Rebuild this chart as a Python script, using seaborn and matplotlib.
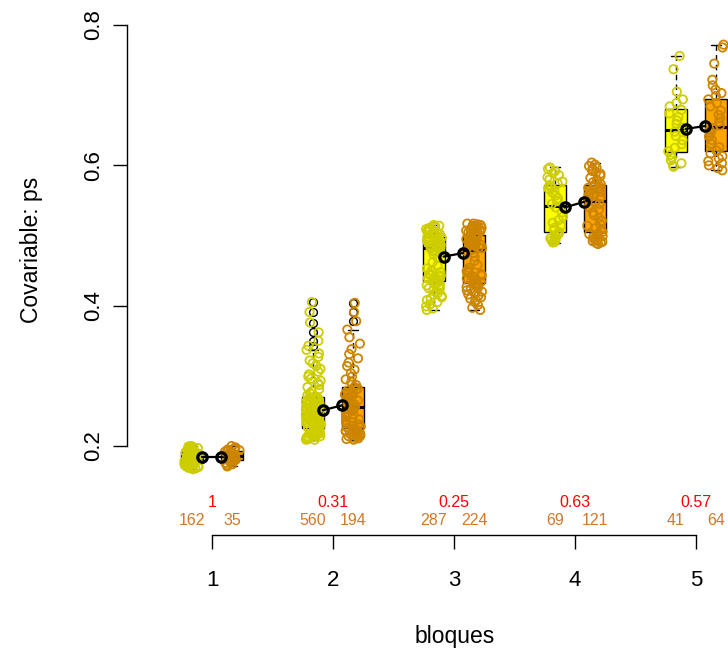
import numpy as np
import pandas as pd
import matplotlib
matplotlib.use("Agg")
import matplotlib.pyplot as plt
import seaborn as sns

sns.set_style("ticks")
plt.rcParams["font.family"] = ["Liberation Sans", "DejaVu Sans"]
plt.rcParams["text.color"] = "black"
plt.rcParams["xtick.color"] = "black"
plt.rcParams["ytick.color"] = "black"

bloques = [1, 2, 3, 4, 5]
grupos = ["control", "tratado"]

# valores de ps leidos por bloque (amarillo = control, naranja = tratado)
ps_b1_control = [0.167, 0.168, 0.169, 0.169, 0.170, 0.171, 0.171, 0.172, 0.173, 0.173,
                 0.174, 0.175, 0.175, 0.176, 0.177, 0.177, 0.178, 0.179, 0.179, 0.180,
                 0.181, 0.181, 0.182, 0.183, 0.183, 0.184, 0.185, 0.185, 0.186, 0.187,
                 0.187, 0.188, 0.189, 0.189, 0.190, 0.191, 0.191, 0.192, 0.193, 0.193,
                 0.194, 0.195, 0.195, 0.196, 0.197, 0.197, 0.198, 0.199, 0.199, 0.200]
ps_b1_tratado = [0.171, 0.173, 0.174, 0.176, 0.177, 0.178, 0.180, 0.181, 0.182, 0.184,
                 0.185, 0.186, 0.187, 0.188, 0.190, 0.191, 0.192, 0.193, 0.194, 0.195,
                 0.196, 0.197, 0.198, 0.200]

ps_b2_control = [0.209, 0.209, 0.210, 0.210, 0.211, 0.212, 0.212, 0.213, 0.214, 0.214,
                 0.215, 0.216, 0.216, 0.217, 0.218, 0.218, 0.219, 0.220, 0.220, 0.221,
                 0.222, 0.222, 0.223, 0.224, 0.225,
                 0.226, 0.227, 0.228, 0.229, 0.230, 0.231, 0.232, 0.233, 0.233, 0.234,
                 0.235, 0.236, 0.237, 0.238, 0.239, 0.240, 0.241, 0.242, 0.243, 0.243,
                 0.244, 0.245, 0.246, 0.247, 0.248, 0.249, 0.250, 0.251, 0.252, 0.253,
                 0.253, 0.254, 0.255, 0.256, 0.257, 0.258, 0.259, 0.260, 0.261, 0.262,
                 0.263, 0.263, 0.264, 0.265, 0.266, 0.266, 0.267, 0.268, 0.269, 0.270,
                 0.272, 0.275, 0.278, 0.281, 0.284, 0.287, 0.290, 0.293, 0.296, 0.299,
                 0.302, 0.306, 0.310, 0.314, 0.318, 0.322, 0.327, 0.332, 0.337, 0.343,
                 0.350, 0.362, 0.376, 0.391, 0.405]
ps_b2_tratado = [0.209, 0.210, 0.211, 0.212, 0.213, 0.214, 0.215, 0.216, 0.217, 0.218,
                 0.219, 0.220, 0.221, 0.222, 0.223, 0.224, 0.225,
                 0.226, 0.228, 0.229, 0.231, 0.233, 0.234, 0.236, 0.238, 0.240, 0.241,
                 0.243, 0.245, 0.247, 0.248, 0.250, 0.252, 0.254, 0.256, 0.257, 0.259,
                 0.261, 0.263, 0.265, 0.266, 0.268, 0.270, 0.272, 0.273, 0.275, 0.277,
                 0.279, 0.280, 0.282, 0.284,
                 0.287, 0.291, 0.295, 0.299, 0.304, 0.309, 0.314, 0.319, 0.325, 0.331,
                 0.338, 0.346, 0.355, 0.366, 0.378, 0.391, 0.404]

ps_b3_control = [0.394, 0.396, 0.399, 0.402, 0.405, 0.408, 0.410, 0.412, 0.414, 0.416,
                 0.418, 0.420, 0.422, 0.424, 0.425, 0.427, 0.429, 0.430, 0.432, 0.433,
                 0.435, 0.436, 0.437, 0.439, 0.440, 0.441, 0.443, 0.444, 0.446, 0.448,
                 0.450, 0.453, 0.457, 0.462, 0.468, 0.473, 0.477, 0.479, 0.481, 0.482,
                 0.483, 0.484, 0.485, 0.486, 0.487, 0.488, 0.489, 0.490, 0.490, 0.491,
                 0.492, 0.493, 0.493, 0.494, 0.495, 0.495, 0.496, 0.497, 0.497, 0.498,
                 0.499, 0.499, 0.500, 0.501, 0.501, 0.502, 0.503, 0.503, 0.504, 0.505,
                 0.506, 0.507, 0.508, 0.509, 0.510, 0.511, 0.512, 0.513, 0.514, 0.515]
ps_b3_tratado = [0.394, 0.397, 0.401, 0.405, 0.408, 0.410, 0.412, 0.414, 0.416, 0.418,
                 0.420, 0.422, 0.424, 0.425, 0.427, 0.428, 0.430, 0.431,
                 0.433, 0.434, 0.436, 0.437, 0.439, 0.440, 0.442, 0.443, 0.445, 0.447,
                 0.449, 0.451, 0.454, 0.458, 0.464, 0.470, 0.475, 0.478, 0.480, 0.482,
                 0.483, 0.485, 0.486, 0.487, 0.488, 0.490, 0.491, 0.492, 0.493, 0.494,
                 0.495, 0.496, 0.497, 0.498, 0.499, 0.500,
                 0.501, 0.502, 0.503, 0.504, 0.505, 0.506, 0.507, 0.508, 0.509, 0.510,
                 0.511, 0.512, 0.513, 0.514, 0.515, 0.516, 0.517, 0.517]

ps_b4_control = [0.490, 0.491, 0.493, 0.494, 0.496, 0.498, 0.500, 0.501, 0.503,
                 0.505, 0.508, 0.511, 0.514, 0.518, 0.522, 0.527, 0.533, 0.540, 0.545,
                 0.549, 0.553, 0.557, 0.561, 0.564, 0.567, 0.569, 0.571,
                 0.574, 0.577, 0.580, 0.583, 0.586, 0.589, 0.592, 0.595, 0.597]
ps_b4_tratado = [0.488, 0.489, 0.490, 0.491, 0.492, 0.494, 0.495, 0.496, 0.498, 0.499,
                 0.500, 0.502, 0.503,
                 0.505, 0.508, 0.511, 0.514, 0.517, 0.521, 0.525, 0.529, 0.533, 0.537,
                 0.541, 0.545, 0.548, 0.551, 0.554, 0.556, 0.558, 0.560, 0.562, 0.564,
                 0.566, 0.567, 0.568, 0.569, 0.570, 0.571,
                 0.573, 0.576, 0.579, 0.582, 0.585, 0.588, 0.590, 0.592, 0.595, 0.597,
                 0.599, 0.601, 0.604]

ps_b5_control = [0.598, 0.600, 0.603, 0.607, 0.611, 0.615,
                 0.620, 0.625, 0.630, 0.636, 0.642, 0.648, 0.654, 0.659, 0.664, 0.669,
                 0.674, 0.679,
                 0.684, 0.689, 0.694, 0.705, 0.737, 0.756]
ps_b5_tratado = [0.593, 0.596, 0.600, 0.603, 0.606, 0.610, 0.613, 0.617,
                 0.621, 0.626, 0.631, 0.636, 0.641, 0.646, 0.650, 0.653, 0.657, 0.662,
                 0.667, 0.672, 0.678, 0.684, 0.689, 0.694,
                 0.699, 0.703, 0.708, 0.714, 0.722, 0.745, 0.768, 0.772]

media_control = [0.185, 0.251, 0.470, 0.540, 0.652]
media_tratado = [0.185, 0.258, 0.475, 0.548, 0.656]
n_control = [162, 560, 287, 69, 41]
n_tratado = [35, 194, 224, 121, 64]
p_valores = ["1", "0.31", "0.25", "0.63", "0.57"]

col_caja = {"control": "yellow", "tratado": "orange"}
col_punto = {"control": "#CDCD00", "tratado": "#CD8500"}
col_n = "#D2782A"

lista_c = [ps_b1_control, ps_b2_control, ps_b3_control, ps_b4_control, ps_b5_control]
lista_t = [ps_b1_tratado, ps_b2_tratado, ps_b3_tratado, ps_b4_tratado, ps_b5_tratado]
filas = []
for b, vc, vt in zip(bloques, lista_c, lista_t):
    filas += [(b, "control", v) for v in vc]
    filas += [(b, "tratado", v) for v in vt]
df = pd.DataFrame(filas, columns=["bloque", "grupo", "ps"])
desplaz = {"control": -0.165, "tratado": 0.165}
df["pos"] = df["bloque"] + df["grupo"].map(desplaz)

medias = pd.DataFrame({
    "bloque": bloques * 2,
    "grupo": ["control"] * 5 + ["tratado"] * 5,
    "media": media_control + media_tratado,
})
medias["mpos"] = medias["bloque"] + medias["grupo"].map({"control": -0.085, "tratado": 0.075})

fig = plt.figure(figsize=(7.28, 6.52), dpi=100)
ax = fig.add_axes([127 / 728, 92 / 652, 601 / 728, 550 / 652])

sns.boxplot(data=df, x="pos", y="ps", hue="grupo", palette=col_caja, native_scale=True,
            dodge=False, width=0.53, saturation=1, linecolor="black", linewidth=1,
            fliersize=5.6, whiskerprops=dict(linestyle=(0, (4, 3))),
            medianprops=dict(linewidth=2.2),
            flierprops=dict(marker="o", markerfacecolor="none", markeredgewidth=1),
            legend=False, ax=ax)

np.random.seed(3)
n_antes = len(ax.collections)
sns.stripplot(data=df, x="pos", y="ps", hue="grupo", palette=col_punto, native_scale=True,
              dodge=False, jitter=0.2, size=6.0, linewidth=1.3, zorder=3,
              legend=False, ax=ax)
for coll in ax.collections[n_antes:]:
    coll.set_edgecolors(coll.get_facecolors())
    coll.set_facecolors("none")

sns.lineplot(data=medias, x="mpos", y="media", units="bloque", estimator=None,
             color="black", linewidth=1.6, marker="o", markersize=6.8,
             markerfacecolor="none", markeredgecolor="black", markeredgewidth=2.3,
             zorder=5, ax=ax)

for b, p, nc, nt in zip(bloques, p_valores, n_control, n_tratado):
    ax.text(b, 0.120, p, color="red", ha="center", va="center", fontsize=11.5)
    ax.text(b - 0.168, 0.0946, str(nc), color=col_n, ha="center", va="center", fontsize=11.5)
    ax.text(b + 0.168, 0.0946, str(nt), color=col_n, ha="center", va="center", fontsize=11.5)

ax.set_xlim(0.2975, 5.2645)
ax.set_ylim(0.0376, 0.8214)
ax.set_xticks(bloques)
ax.set_xticklabels([str(b) for b in bloques])
ax.set_yticks([0.2, 0.4, 0.6, 0.8])
ax.set_yticklabels(["0.2", "0.4", "0.6", "0.8"])
ax.set(xlabel="", ylabel="")

for s in ["top", "right"]:
    ax.spines[s].set_visible(False)
ax.spines["left"].set_bounds(0.2, 0.8)
ax.spines["bottom"].set_position(("data", 0.073))
ax.spines["bottom"].set_bounds(1, 5)
for s in ["left", "bottom"]:
    ax.spines[s].set_linewidth(1.0)
    ax.spines[s].set_color("black")

ax.tick_params(axis="both", length=10, width=1.0, color="black", labelcolor="black", labelsize=16)
ax.tick_params(axis="x", pad=15)
ax.tick_params(axis="y", pad=6.7, labelrotation=90)
for lab in ax.get_yticklabels():
    lab.set_va("center")

fig.text(32 / 728, 1 - 250 / 652, "Covariable: ps", rotation=90, ha="center", va="center",
         fontsize=16.5, color="black")
fig.text(455 / 728, 1 - 636 / 652, "bloques", ha="center", va="center", fontsize=16.5,
         color="black")

fig.savefig("out.png", dpi=100)
